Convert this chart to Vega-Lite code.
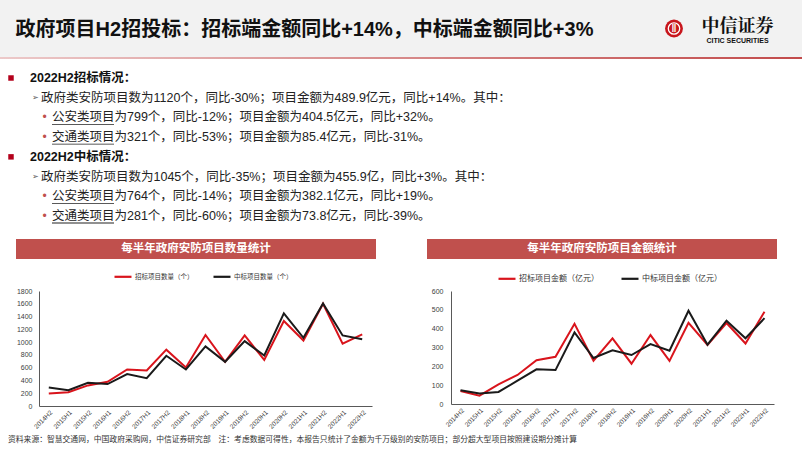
{
  "$schema": "https://vega.github.io/schema/vega-lite/v6.json",
  "padding": 0,
  "background": "white",
  "config": {
    "view": {"stroke": null},
    "font": "Liberation Sans, Noto Sans CJK SC, sans-serif",
    "concat": {"spacing": 0}
  },
  "datasets": {
    "count": [
      {"period": "2014H2", "series": "招标项目数量（个）", "value": 195},
      {"period": "2015H1", "series": "招标项目数量（个）", "value": 215},
      {"period": "2015H2", "series": "招标项目数量（个）", "value": 322},
      {"period": "2016H1", "series": "招标项目数量（个）", "value": 378},
      {"period": "2016H2", "series": "招标项目数量（个）", "value": 571},
      {"period": "2017H1", "series": "招标项目数量（个）", "value": 555},
      {"period": "2017H2", "series": "招标项目数量（个）", "value": 882},
      {"period": "2018H1", "series": "招标项目数量（个）", "value": 602},
      {"period": "2018H2", "series": "招标项目数量（个）", "value": 1112},
      {"period": "2019H1", "series": "招标项目数量（个）", "value": 690},
      {"period": "2019H2", "series": "招标项目数量（个）", "value": 1104},
      {"period": "2020H1", "series": "招标项目数量（个）", "value": 722},
      {"period": "2020H2", "series": "招标项目数量（个）", "value": 1330},
      {"period": "2021H1", "series": "招标项目数量（个）", "value": 1025},
      {"period": "2021H2", "series": "招标项目数量（个）", "value": 1600},
      {"period": "2022H1", "series": "招标项目数量（个）", "value": 977},
      {"period": "2022H2", "series": "招标项目数量（个）", "value": 1120},
      {"period": "2014H2", "series": "中标项目数量（个）", "value": 288},
      {"period": "2015H1", "series": "中标项目数量（个）", "value": 246},
      {"period": "2015H2", "series": "中标项目数量（个）", "value": 362},
      {"period": "2016H1", "series": "中标项目数量（个）", "value": 344},
      {"period": "2016H2", "series": "中标项目数量（个）", "value": 500},
      {"period": "2017H1", "series": "中标项目数量（个）", "value": 436},
      {"period": "2017H2", "series": "中标项目数量（个）", "value": 786},
      {"period": "2018H1", "series": "中标项目数量（个）", "value": 571},
      {"period": "2018H2", "series": "中标项目数量（个）", "value": 932},
      {"period": "2019H1", "series": "中标项目数量（个）", "value": 692},
      {"period": "2019H2", "series": "中标项目数量（个）", "value": 1016},
      {"period": "2020H1", "series": "中标项目数量（个）", "value": 790},
      {"period": "2020H2", "series": "中标项目数量（个）", "value": 1450},
      {"period": "2021H1", "series": "中标项目数量（个）", "value": 1068},
      {"period": "2021H2", "series": "中标项目数量（个）", "value": 1605},
      {"period": "2022H1", "series": "中标项目数量（个）", "value": 1104},
      {"period": "2022H2", "series": "中标项目数量（个）", "value": 1045}
    ],
    "amount": [
      {"period": "2014H2", "series": "招标项目金额（亿元）", "value": 69},
      {"period": "2015H1", "series": "招标项目金额（亿元）", "value": 44},
      {"period": "2015H2", "series": "招标项目金额（亿元）", "value": 104},
      {"period": "2016H1", "series": "招标项目金额（亿元）", "value": 154},
      {"period": "2016H2", "series": "招标项目金额（亿元）", "value": 232},
      {"period": "2017H1", "series": "招标项目金额（亿元）", "value": 251},
      {"period": "2017H2", "series": "招标项目金额（亿元）", "value": 426},
      {"period": "2018H1", "series": "招标项目金额（亿元）", "value": 230},
      {"period": "2018H2", "series": "招标项目金额（亿元）", "value": 348},
      {"period": "2019H1", "series": "招标项目金额（亿元）", "value": 214},
      {"period": "2019H2", "series": "招标项目金额（亿元）", "value": 366},
      {"period": "2020H1", "series": "招标项目金额（亿元）", "value": 229},
      {"period": "2020H2", "series": "招标项目金额（亿元）", "value": 431},
      {"period": "2021H1", "series": "招标项目金额（亿元）", "value": 314},
      {"period": "2021H2", "series": "招标项目金额（亿元）", "value": 430},
      {"period": "2022H1", "series": "招标项目金额（亿元）", "value": 321},
      {"period": "2022H2", "series": "招标项目金额（亿元）", "value": 489.9},
      {"period": "2014H2", "series": "中标项目金额（亿元）", "value": 73},
      {"period": "2015H1", "series": "中标项目金额（亿元）", "value": 56},
      {"period": "2015H2", "series": "中标项目金额（亿元）", "value": 64},
      {"period": "2016H1", "series": "中标项目金额（亿元）", "value": 124},
      {"period": "2016H2", "series": "中标项目金额（亿元）", "value": 184},
      {"period": "2017H1", "series": "中标项目金额（亿元）", "value": 180},
      {"period": "2017H2", "series": "中标项目金额（亿元）", "value": 380},
      {"period": "2018H1", "series": "中标项目金额（亿元）", "value": 244},
      {"period": "2018H2", "series": "中标项目金额（亿元）", "value": 285},
      {"period": "2019H1", "series": "中标项目金额（亿元）", "value": 260},
      {"period": "2019H2", "series": "中标项目金额（亿元）", "value": 318},
      {"period": "2020H1", "series": "中标项目金额（亿元）", "value": 283},
      {"period": "2020H2", "series": "中标项目金额（亿元）", "value": 495},
      {"period": "2021H1", "series": "中标项目金额（亿元）", "value": 315},
      {"period": "2021H2", "series": "中标项目金额（亿元）", "value": 442.6},
      {"period": "2022H1", "series": "中标项目金额（亿元）", "value": 349},
      {"period": "2022H2", "series": "中标项目金额（亿元）", "value": 455.9}
    ],
    "lines": [
      {"line": 1, "level": "h", "text": "2022H2招标情况："},
      {"line": 2, "level": "sub", "text": "政府类安防项目数为1120个，同比-30%；项目金额为489.9亿元，同比+14%。其中："},
      {"line": 3, "level": "item", "text": "公安类项目为799个，同比-12%；项目金额为404.5亿元，同比+32%。"},
      {"line": 4, "level": "item", "text": "交通类项目为321个，同比-53%；项目金额为85.4亿元，同比-31%。"},
      {"line": 5, "level": "h", "text": "2022H2中标情况："},
      {"line": 6, "level": "sub", "text": "政府类安防项目数为1045个，同比-35%；项目金额为455.9亿，同比+3%。其中："},
      {"line": 7, "level": "item", "text": "公安类项目为764个，同比-14%；项目金额为382.1亿元，同比+19%。"},
      {"line": 8, "level": "item", "text": "交通类项目为281个，同比-60%；项目金额为73.8亿元，同比-39%。"}
    ]
  },
  "title": {
    "text": "资料来源：智慧交通网，中国政府采购网，中信证券研究部　注：考虑数据可得性，本报告只统计了金额为千万级别的安防项目；部分超大型项目按照建设期分摊计算",
    "orient": "bottom",
    "anchor": "start",
    "frame": "group",
    "fontSize": 7.8,
    "fontWeight": "normal",
    "color": "#333333",
    "baseline": "top",
    "offset": 6,
    "dx": 8
  },
  "spacing": 0,
  "vconcat": [
    {
      "spacing": 0,
      "hconcat": [
        {
          "width": 609, "height": 57,
          "view": {"fill": "#f2f2f2"},
          "data": {"values": [{"title": "政府项目H2招投标：招标端金额同比+14%，中标端金额同比+3%"}]},
          "mark": {"type": "text", "fontSize": 20, "fontWeight": "bold", "color": "#111111", "baseline": "middle", "dy": 1.5},
          "encoding": {"text": {"field": "title"}}
        },
        {
          "width": 56, "height": 57,
          "view": {"fill": "#f2f2f2"},
          "data": {"values": []},
          "mark": "point",
          "encoding": {}
        },
        {
          "width": 18, "height": 57,
          "view": {"fill": "#f2f2f2"},
          "data": {"values": [{"logo": "CITIC"}]},
          "layer": [
            {"mark": {"type": "point", "shape": "circle", "filled": true, "size": 320, "color": "#c8161d", "opacity": 1}, "encoding": {}},
            {"mark": {"type": "point", "shape": "circle", "filled": false, "size": 130, "color": "white", "strokeWidth": 1.3, "opacity": 1}, "encoding": {}},
            {"mark": {"type": "text", "text": "ǁ", "fontSize": 10, "color": "white", "baseline": "middle", "fontWeight": "bold"}, "encoding": {}}
          ]
        },
        {
          "width": 109, "height": 57,
          "view": {"fill": "#f2f2f2"},
          "data": {"values": [{"row": "cn", "t": "中信证券"}, {"row": "en", "t": "CITIC SECURITIES"}]},
          "encoding": {
            "text": {"field": "t"},
            "y": {"field": "row", "type": "nominal", "scale": {"type": "point", "domain": ["cn", "en"], "range": [27, 40.5], "padding": 0}, "axis": null}
          },
          "layer": [
            {
              "transform": [{"filter": "datum.row == 'cn'"}],
              "mark": {"type": "text", "fontSize": 18, "fontWeight": "bold", "color": "#111111", "baseline": "middle", "font": "Noto Serif CJK SC, Noto Sans CJK SC, serif"}
            },
            {
              "transform": [{"filter": "datum.row == 'en'"}],
              "mark": {"type": "text", "fontSize": 7, "fontWeight": "bold", "color": "#111111", "baseline": "middle"}
            }
          ]
        },
        {
          "width": 10, "height": 57,
          "view": {"fill": "#f2f2f2"},
          "data": {"values": []},
          "mark": "point",
          "encoding": {}
        }
      ]
    },
    {
      "width": 802, "height": 2,
      "view": {"fill": {"gradient": "linear", "x1": 0, "x2": 1, "y1": 0, "y2": 0, "stops": [{"offset": 0, "color": "#ecc9c9"}, {"offset": 1, "color": "#c24b4b"}]}},
      "data": {"values": []},
      "mark": "point",
      "encoding": {}
    },
    {
      "width": 802, "height": 180,
      "data": {"name": "lines"},
      "encoding": {
        "x": {"field": "level", "type": "nominal", "scale": {"type": "point", "domain": ["h", "sub", "item"], "range": [30, 52], "padding": 0}, "axis": null},
        "y": {"field": "line", "type": "ordinal", "scale": {"type": "point", "range": [19, 157], "padding": 0}, "axis": null}
      },
      "layer": [
        {
          "transform": [{"filter": "datum.level == 'h'"}],
          "mark": {"type": "text", "align": "left", "baseline": "middle", "fontSize": 12.5, "fontWeight": "bold", "color": "#111111"},
          "encoding": {"text": {"field": "text"}}
        },
        {
          "transform": [{"filter": "datum.level != 'h'"}],
          "mark": {"type": "text", "align": "left", "baseline": "middle", "fontSize": 12.5, "color": "#222222"},
          "encoding": {"text": {"field": "text"}}
        },
        {
          "transform": [{"filter": "datum.level == 'item'"}],
          "mark": {"type": "tick", "orient": "horizontal", "size": 62, "thickness": 0.8, "color": "#222222", "opacity": 1, "xOffset": 31, "yOffset": 7}
        },
        {
          "transform": [{"filter": "datum.level == 'h'"}],
          "mark": {"type": "point", "shape": "square", "filled": true, "size": 30, "color": "#b3001b", "opacity": 1, "xOffset": -19}
        },
        {
          "transform": [{"filter": "datum.level == 'sub'"}],
          "mark": {"type": "text", "text": "➢", "align": "center", "baseline": "middle", "fontSize": 8, "color": "#595959", "xOffset": -6}
        },
        {
          "transform": [{"filter": "datum.level == 'item'"}],
          "mark": {"type": "text", "text": "•", "align": "center", "baseline": "middle", "fontSize": 12, "color": "#c0504d", "xOffset": -7.5}
        }
      ]
    },
    {
      "spacing": 0,
      "hconcat": [
        {"width": 16, "height": 20, "data": {"values": []}, "mark": "point", "encoding": {}},
        {
          "width": 360, "height": 20,
          "view": {"fill": "#c0504d"},
          "data": {"values": [{"t": "每半年政府安防项目数量统计"}]},
          "mark": {"type": "text", "color": "white", "fontSize": 11.5, "fontWeight": "bold", "baseline": "middle"},
          "encoding": {"text": {"field": "t"}}
        },
        {"width": 51, "height": 20, "data": {"values": []}, "mark": "point", "encoding": {}},
        {
          "width": 350, "height": 20,
          "view": {"fill": "#c0504d"},
          "data": {"values": [{"t": "每半年政府安防项目金额统计"}]},
          "mark": {"type": "text", "color": "white", "fontSize": 11.5, "fontWeight": "bold", "baseline": "middle"},
          "encoding": {"text": {"field": "t"}}
        }
      ]
    },
    {"width": 802, "height": 7, "data": {"values": []}, "mark": "point", "encoding": {}},
    {
      "spacing": 0,
      "resolve": {"scale": {"color": "independent", "x": "independent", "y": "independent"}, "legend": {"color": "independent"}},
      "hconcat": [
        {"width": 16, "height": 10, "data": {"values": []}, "mark": "point", "encoding": {}},
        {
          "width": 333, "height": 115,
          "data": {"name": "count"},
          "encoding": {
            "x": {"field": "period", "type": "ordinal", "sort": null, "scale": {"type": "point", "padding": 0.5},
              "axis": {"title": null, "labelAngle": -45, "labelFontSize": 6.5, "labelColor": "#404040", "ticks": false, "domainColor": "#595959", "labelPadding": 3, "grid": false}},
            "y": {"field": "value", "type": "quantitative", "scale": {"domain": [0, 1800], "nice": false},
              "axis": {"title": null, "values": [0, 200, 400, 600, 800, 1000, 1200, 1400, 1600, 1800], "format": "d", "grid": false, "ticks": false, "labelFontSize": 7, "labelColor": "#404040", "domainColor": "#595959", "labelPadding": 7, "minExtent": 23}},
            "color": {"field": "series", "type": "nominal", "sort": null,
              "scale": {"domain": ["招标项目数量（个）", "中标项目数量（个）"], "range": ["#d9141c", "#1a1a1a"]},
              "legend": {"orient": "none", "legendX": 74, "legendY": -24.5, "direction": "horizontal", "title": null, "symbolType": "stroke", "symbolSize": 289, "symbolStrokeWidth": 2.2, "labelFontSize": 6.5, "labelColor": "#333333", "labelOffset": 2, "columnPadding": 15, "padding": 0}}
          },
          "layer": [
            {"transform": [{"filter": "datum.series == '招标项目数量（个）'"}], "mark": {"type": "line", "strokeWidth": 2}},
            {"transform": [{"filter": "datum.series == '中标项目数量（个）'"}], "mark": {"type": "line", "strokeWidth": 2}}
          ]
        },
        {"width": 55, "height": 10, "data": {"values": []}, "mark": "point", "encoding": {}},
        {
          "width": 323, "height": 113,
          "data": {"name": "amount"},
          "encoding": {
            "x": {"field": "period", "type": "ordinal", "sort": null, "scale": {"type": "point", "padding": 0.5},
              "axis": {"title": null, "labelAngle": -45, "labelFontSize": 6.5, "labelColor": "#404040", "ticks": false, "domainColor": "#595959", "labelPadding": 3, "grid": false}},
            "y": {"field": "value", "type": "quantitative", "scale": {"domain": [0, 600], "nice": false},
              "axis": {"title": null, "values": [0, 100, 200, 300, 400, 500, 600], "format": "d", "grid": false, "ticks": false, "labelFontSize": 7, "labelColor": "#404040", "domainColor": "#595959", "labelPadding": 8, "minExtent": 24}},
            "color": {"field": "series", "type": "nominal", "sort": null,
              "scale": {"domain": ["招标项目金额（亿元）", "中标项目金额（亿元）"], "range": ["#d9141c", "#1a1a1a"]},
              "legend": {"orient": "none", "legendX": 46, "legendY": -22.5, "direction": "horizontal", "title": null, "symbolType": "stroke", "symbolSize": 289, "symbolStrokeWidth": 2.2, "labelFontSize": 8, "labelColor": "#333333", "labelOffset": 2, "columnPadding": 18, "padding": 0}}
          },
          "layer": [
            {"transform": [{"filter": "datum.series == '招标项目金额（亿元）'"}], "mark": {"type": "line", "strokeWidth": 2}},
            {"transform": [{"filter": "datum.series == '中标项目金额（亿元）'"}], "mark": {"type": "line", "strokeWidth": 2}}
          ]
        }
      ]
    }
  ]
}
